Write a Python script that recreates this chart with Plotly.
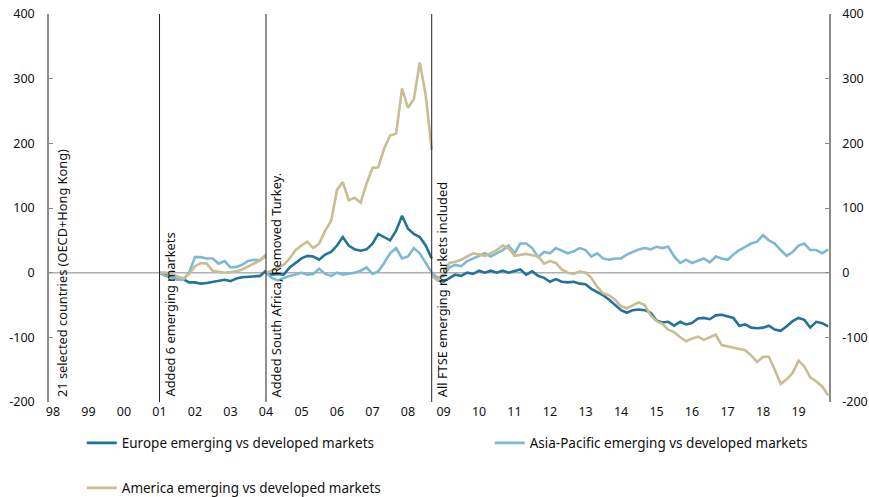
import pandas as pd
import plotly.graph_objects as go

# rebased index, three periods, 2-monthly points
seg1_start, seg1_n = "2001-01-01", 19
seg2_start, seg2_n = "2004-01-01", 29
seg3_start, seg3_n = "2008-09-01", 68

europe_1 = [0, -3, -6, -10, -10, -15, -15, -17, -16, -14, -13, -11, -13, -9, -7, -6, -5, -5, 3]
asia_1 = [0, -5, -7, -10, -11, 0, 24, 24, 22, 22, 14, 18, 8, 9, 12, 18, 20, 19, 26]
america_1 = [0, 0, -2, -6, -9, -2, 10, 15, 14, 3, 1, 0, 1, 2, 5, 10, 15, 19, 28]

europe_2 = [0, -3, -2, -3, 8, 15, 22, 26, 25, 20, 28, 32, 42, 55, 42, 36, 34, 36, 45, 60,
            55, 50, 65, 88, 68, 60, 55, 42, 22]
asia_2 = [0, -8, -12, -8, -5, -3, 0, -3, -2, 6, -2, -5, 0, -3, -2, 0, 3, 8, -2, 2,
          15, 30, 38, 22, 25, 38, 30, 15, 0]
america_2 = [0, 3, 8, 12, 22, 35, 42, 48, 38, 45, 65, 80, 128, 140, 112, 116, 108, 138, 162, 163,
             192, 212, 215, 285, 255, 268, 325, 275, 190]

europe_3 = [0, -12, -14, -8, -3, -5, 0, -2, 3, 0, 3, 0, 3, 0, 2, 5, -3, 2, -5, -8,
            -14, -10, -14, -15, -14, -17, -18, -25, -30, -35, -42, -50, -58, -62, -58, -57, -58, -62, -74, -77,
            -76, -82, -76, -80, -78, -71, -70, -72, -66, -65, -67, -70, -82, -80, -85, -86, -85, -82, -88, -90,
            -83, -75, -70, -73, -85, -76, -78, -83]
asia_3 = [0, -8, -5, 8, 12, 10, 18, 22, 25, 30, 25, 30, 35, 42, 30, 45, 45, 38, 24, 32,
          30, 38, 34, 30, 33, 38, 35, 25, 30, 22, 20, 22, 22, 28, 32, 36, 38, 36, 40, 38,
          40, 25, 15, 20, 15, 18, 22, 16, 25, 22, 20, 28, 35, 40, 45, 48, 58, 50, 45, 35,
          26, 32, 42, 45, 35, 35, 30, 36]
america_3 = [-5, -12, 0, 15, 17, 20, 25, 30, 28, 26, 30, 35, 42, 38, 26, 28, 29, 27, 25, 14,
             18, 15, 5, 0, -2, 2, 0, -8, -22, -32, -35, -42, -52, -55, -50, -46, -50, -66, -75, -79,
             -88, -92, -100, -106, -102, -99, -104, -100, -96, -112, -114, -116, -118, -120, -128, -138, -130, -130, -150, -172,
             -165, -155, -136, -145, -162, -168, -176, -190]

y_ticks = [-200, -100, 0, 100, 200, 300, 400]
y_labels = ["-200", "-100", "0", "100", "200", "300", "400"]

breaks = ["1997-11-21", "2001-01-01", "2004-01-01", "2008-09-01"]
notes = ["21 selected countries (OECD+Hong Kong)", "Added 6 emerging markets",
         "Added South Africa, Removed Turkey.", "All FTSE emerging markets included"]

names = ["Europe emerging vs developed markets", "Asia-Pacific emerging vs developed markets",
         "America emerging vs developed markets"]
colors = ["#23729a", "#7db9d5", "#c9bd93"]

d1 = list(pd.date_range(seg1_start, periods=seg1_n, freq="2MS"))
d2 = list(pd.date_range(seg2_start, periods=seg2_n, freq="2MS"))
d3 = list(pd.date_range(seg3_start, periods=seg3_n, freq="2MS"))
dates = d1 + [d1[-1]] + d2 + [d2[-1]] + d3

series = [europe_1 + [None] + europe_2 + [None] + europe_3,
          asia_1 + [None] + asia_2 + [None] + asia_3,
          america_1 + [None] + america_2 + [None] + america_3]

fnt = "Noto Sans, Open Sans, sans-serif"

fig = go.Figure()
legends = ["legend", "legend2", "legend3"]
for name, col, vals, lg in zip(names, colors, series, legends):
    fig.add_trace(go.Scatter(x=dates, y=vals, name=name, mode="lines",
                             line=dict(color=col, width=2.6), connectgaps=False, legend=lg))
# dummy trace to carry the right axis
fig.add_trace(go.Scatter(x=[dates[0]], y=[None], yaxis="y2", showlegend=False, hoverinfo="skip"))

for i, (b, t) in enumerate(zip(breaks, notes)):
    if i > 0:
        fig.add_shape(type="line", x0=b, x1=b, y0=-200, y1=400, xref="x", yref="y",
                      line=dict(color="#222222", width=1))
    fig.add_annotation(x=b, y=-200, xref="x", yref="y", text=t, textangle=-90, showarrow=False,
                       xanchor="left", yanchor="bottom", xshift=2 if i == 0 else -1, yshift=3,
                       font=dict(family=fnt, size=12.8, color="#111111"))

fig.add_shape(type="line", x0=0, x1=1, xref="paper", y0=0, y1=0, yref="y",
              line=dict(color="#b0b0b0", width=1.5), layer="below")

yax = dict(range=[-200, 400], tickmode="array", tickvals=y_ticks, ticktext=y_labels,
           showgrid=False, zeroline=False, showline=True,
           linecolor="#8a8a8a", linewidth=1.5, ticks="inside", ticklen=4, tickcolor="#8a8a8a",
           tickfont=dict(family=fnt, size=12.5, color="#111111"),
           ticklabelstandoff=10, automargin=False)

leg_font = dict(family=fnt, size=13.5, color="#111111")

fig.update_layout(
    width=869, height=497,
    margin=dict(l=49, r=40, t=14, b=95, autoexpand=False),
    plot_bgcolor="white", paper_bgcolor="white",
    xaxis=dict(type="date", range=["1997-11-21", "2019-11-10"], dtick="M12", tick0="1998-01-01",
               tickformat="%y", showgrid=False, zeroline=False, showline=False, ticks="",
               automargin=False,
               tickfont=dict(family=fnt, size=12.5, color="#111111")),
    yaxis=yax,
    yaxis2=dict(yax, overlaying="y", side="right", ticklabelstandoff=9),
    legend=dict(orientation="h", x=0.042, y=-0.106, xanchor="left", yanchor="middle", font=leg_font),
    legend2=dict(orientation="h", x=0.565, y=-0.106, xanchor="left", yanchor="middle", font=leg_font),
    legend3=dict(orientation="h", x=0.042, y=-0.222, xanchor="left", yanchor="middle", font=leg_font),
    showlegend=True,
)

fig.write_html("out.html", config={"displayModeBar": False},
               post_script="document.body.style.margin='0';")
